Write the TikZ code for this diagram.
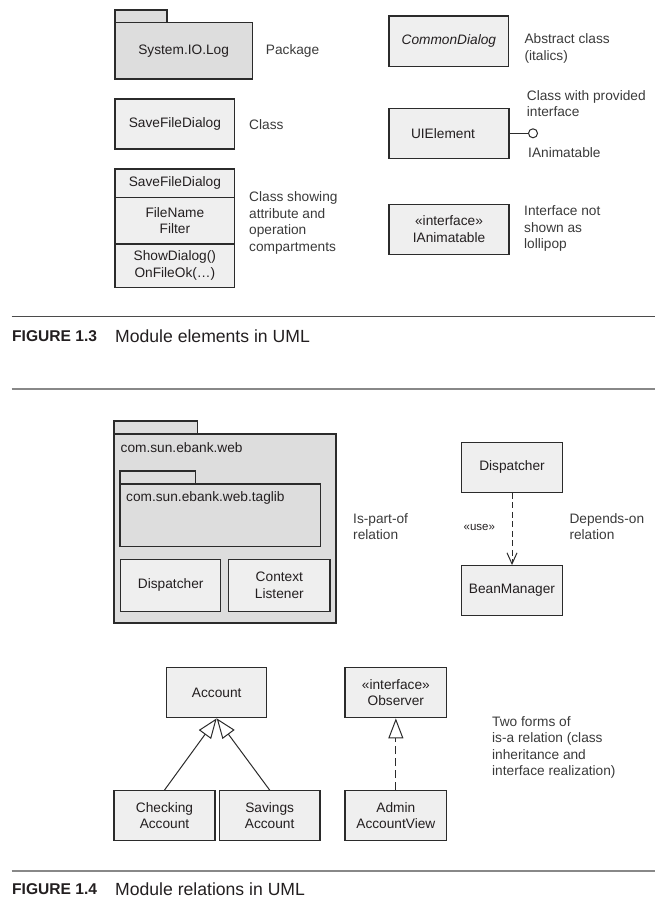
\documentclass[tikz,border=0pt]{standalone}
\usepackage{fontspec}
\setmainfont{Liberation Sans}
\usetikzlibrary{arrows.meta}
\definecolor{linec}{HTML}{2B2B2B}
\definecolor{txtc}{HTML}{231F20}
\definecolor{lblc}{HTML}{3A3A3A}
\definecolor{pkgfill}{HTML}{DDDDDD}
\definecolor{clsfill}{HTML}{EFEFEF}
\definecolor{rulec}{HTML}{888888}
\tikzset{
  umlbox/.style={draw=linec, line width=1.3pt, fill=clsfill, align=center, inner sep=0pt, text=txtc,
    font=\fontsize{13.7}{16.5}\selectfont},
  pkgbox/.style={umlbox, fill=pkgfill},
  pkgtab/.style={draw=linec, line width=1.3pt, fill=pkgfill},
  lbl/.style={anchor=west, align=left, inner sep=0pt, text=lblc, font=\fontsize{13.7}{16.5}\selectfont},
  pkgname/.style={anchor=west, inner sep=0pt, text=txtc, font=\fontsize{13.7}{16.5}\selectfont},
  capnum/.style={anchor=west, inner sep=0pt, text=txtc, font=\fontsize{15.6}{18}\selectfont\bfseries},
  captxt/.style={anchor=west, inner sep=0pt, text=txtc, font=\fontsize{17.6}{20}\selectfont},
  gen/.style={draw=linec, line width=1pt, -{Triangle[length=20pt,width=15pt,fill=white,line width=1pt]}},
  dep/.style={draw=linec, line width=1pt, dash pattern=on 6pt off 3.5pt, -{Straight Barb[length=11pt,width=10pt,line width=1pt]}}
}
\begin{document}
\begin{tikzpicture}[x=1pt,y=-1pt]
\useasboundingbox (0,0) rectangle (655,899);
% ---------------- Figure 1.3 ----------------
\draw[pkgtab] (115,10) rectangle (167,22.3);
\node[pkgbox, minimum width=137.3pt, minimum height=56.7pt] (syslog) at (183.65,50.65) {System.IO.Log};
\node[lbl] (lpkg) at (265.7,51) {Package};

\node[umlbox, minimum width=119.7pt, minimum height=50pt] (sfd) at (174.85,124) {SaveFileDialog};
\node[lbl] (lcls) at (249,125) {Class};

\node[umlbox, minimum width=119.7pt, minimum height=28.7pt] (sfdA) at (174.85,183.35) {SaveFileDialog};
\node[umlbox, minimum width=119.7pt, minimum height=46.3pt] (sfdB) at (174.85,220.85) {FileName\\Filter};
\node[umlbox, minimum width=119.7pt, minimum height=43.3pt] (sfdC) at (174.85,265.65) {ShowDialog()\\OnFileOk(…)};
\node[lbl] (lcomp) at (249,223) {Class showing\\attribute and\\operation\\compartments};

\node[umlbox, minimum width=119.7pt, minimum height=50.7pt] (cdlg) at (448.85,41.35) {\itshape CommonDialog};
\node[lbl] (labs) at (524.3,48.5) {Abstract class\\(italics)};

\node[umlbox, minimum width=120pt, minimum height=50pt] (uie) at (449,133.3) {\hspace*{-12pt}UIElement};
\node[draw=linec, line width=1pt, circle, minimum size=9pt, inner sep=0pt, fill=white] (lol) at (533,133.3) {};
\draw[draw=linec, line width=1pt] (uie.east) -- (lol.west);
\node[lbl] (lprov) at (526.7,103.5) {Class with provided\\interface};
\node[lbl] (lian) at (528,153) {IAnimatable};

\node[umlbox, minimum width=120pt, minimum height=50pt] (ianim) at (449,229.3) {«interface»\\IAnimatable};
\node[lbl] (llol) at (524,228.5) {Interface not\\shown as\\lollipop};

\coordinate (r1a) at (11.7,316.7);
\coordinate (r1b) at (655,316.7);
\draw[draw=linec!85, line width=1.2pt] (r1a) -- (r1b);
\node[capnum] (cap3a) at (12,336.5) {FIGURE 1.3};
\node[captxt] (cap3b) at (115,336.5) {Module elements in UML};
\coordinate (r2a) at (11.7,389);
\coordinate (r2b) at (655,389);
\draw[draw=rulec, line width=2pt] (r2a) -- (r2b);

% ---------------- Figure 1.4 ----------------
\draw[pkgtab] (114,421) rectangle (197.3,434);
\node[pkgbox, minimum width=222pt, minimum height=189pt] (web) at (225,528.5) {};
\node[pkgname] (webname) at (120.5,447.5) {com.sun.ebank.web};
\draw[pkgtab] (120,471) rectangle (195.7,484);
\node[pkgbox, minimum width=200.7pt, minimum height=62.7pt] (taglib) at (220.35,515.35) {};
\node[pkgname] (tagname) at (126,497.5) {com.sun.ebank.web.taglib};
\node[umlbox, minimum width=100pt, minimum height=52pt] (disp1) at (170.7,585.3) {Dispatcher};
\node[umlbox, minimum width=101.3pt, minimum height=52pt] (ctx) at (279.35,585.3) {Context\\Listener};
\node[lbl] (lpart) at (353,526.5) {Is-part-of\\relation};

\node[umlbox, minimum width=100.6pt, minimum height=50pt] (disp2) at (512,467.3) {Dispatcher};
\node[umlbox, minimum width=100.6pt, minimum height=50pt] (bean) at (512,590.7) {BeanManager};
\draw[dep] (disp2.south) -- (bean.north);
\node[anchor=west, inner sep=0pt, text=txtc, font=\fontsize{11.5}{14}\selectfont] (use) at (463.5,527) {«use»};
\node[lbl] (ldep) at (569.3,526.5) {Depends-on\\relation};

\node[umlbox, minimum width=100pt, minimum height=50.4pt] (acct) at (216.7,692.5) {Account};
\node[umlbox, minimum width=101pt, minimum height=50pt] (chk) at (164.5,815.7) {Checking\\Account};
\node[umlbox, minimum width=100.7pt, minimum height=50pt] (sav) at (269.65,815.7) {Savings\\Account};
\draw[gen] (chk.north) -- (acct.south);
\draw[gen] (sav.north) -- (acct.south);

\node[umlbox, minimum width=101.7pt, minimum height=50.4pt] (obs) at (395.85,692.5) {«interface»\\Observer};
\node[umlbox, minimum width=101.7pt, minimum height=50pt] (adm) at (395.85,815.7) {Admin\\AccountView};
\draw[gen, dash pattern=on 8pt off 4pt] (adm.north) -- (obs.south);
\node[lbl] (lisa) at (492,747.5) {Two forms of\\is-a relation (class\\inheritance and\\interface realization)};

\coordinate (r3a) at (11.7,870.7);
\coordinate (r3b) at (655,870.7);
\draw[draw=rulec, line width=2pt] (r3a) -- (r3b);
\node[capnum] (cap4a) at (12,889) {FIGURE 1.4};
\node[captxt] (cap4b) at (115,889) {Module relations in UML};
\end{tikzpicture}
\end{document}
